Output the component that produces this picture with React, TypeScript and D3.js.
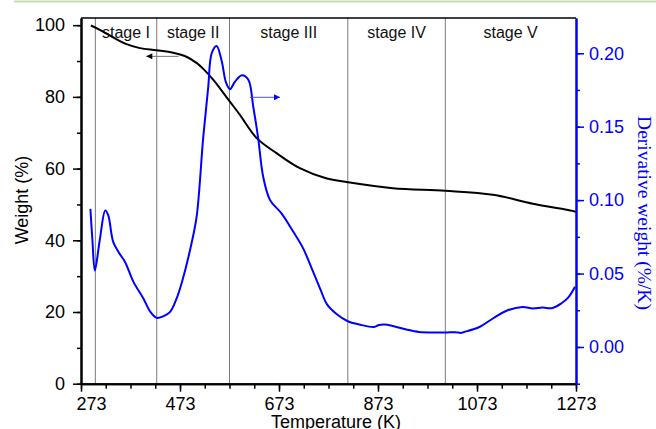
import React, { useEffect, useRef } from "react";
import * as d3 from "d3";

// TG curve (weight %) vs temperature (K)
const weightT = [293, 311, 338, 365, 392, 426, 459, 486, 507, 520, 540, 573, 594, 628, 668, 715, 768, 812, 903, 1009, 1105, 1186, 1266, 1273];
const weightV = [99.9, 98.7, 96.6, 94.7, 93.6, 93.0, 92.3, 91.2, 89.4, 87.8, 84.8, 78.8, 75.0, 68.5, 64.3, 60.1, 57.3, 56.2, 54.5, 53.8, 52.7, 50.2, 48.2, 47.9];

// DTG curve (derivative weight %/K)
const dtgT = [292, 296, 301, 311, 322, 328, 338, 350, 362, 379, 399, 413, 426, 440, 453, 465, 477, 497, 507, 520, 530, 537, 547, 557, 566, 574, 584, 598, 611, 621, 631, 641, 655, 678, 702, 722, 742, 756, 770, 788, 812, 835, 865, 875, 886, 903, 930, 956, 985, 1009, 1030, 1040, 1047, 1078, 1105, 1135, 1165, 1186, 1205, 1226, 1243, 1258, 1271];
const dtgV = [0.094, 0.073, 0.052, 0.073, 0.093, 0.0898, 0.0716, 0.064, 0.0579, 0.0443, 0.033, 0.024, 0.0198, 0.021, 0.0239, 0.032, 0.0443, 0.0716, 0.0898, 0.143, 0.177, 0.200, 0.205, 0.195, 0.180, 0.1755, 0.1806, 0.185, 0.182, 0.1636, 0.142, 0.116, 0.100, 0.091, 0.0784, 0.067, 0.0511, 0.0398, 0.029, 0.0228, 0.0175, 0.0153, 0.0136, 0.0150, 0.0153, 0.0143, 0.0119, 0.0102, 0.0099, 0.0098, 0.0101, 0.0096, 0.0102, 0.0136, 0.0194, 0.025, 0.0273, 0.0262, 0.0268, 0.0266, 0.0296, 0.034, 0.041];

// stage boundaries (K) and names
const stageBounds = [302, 426, 573, 812, 1009, 1273];
const stageNames = ["stage I", "stage II", "stage III", "stage IV", "stage V"];

// tick labels
const xMajor = [273, 473, 673, 873, 1073, 1273];
const xMinor = d3.range(273, 1274, 50);
const yLeftMajor = [0, 20, 40, 60, 80, 100];
const yLeftMinor = d3.range(0, 101, 10);
const yRightMajor = [0, 0.05, 0.1, 0.15, 0.2];
const yRightMinor = [-0.025, 0, 0.025, 0.05, 0.075, 0.1, 0.125, 0.15, 0.175, 0.2];

const BLUE = "#0000ff";
const SANS = "Arial, 'Liberation Sans', sans-serif";
const SERIF = "'Times New Roman', 'Liberation Serif', serif";

export default function App() {
  const ref = useRef<SVGSVGElement>(null);

  useEffect(() => {
    const width = 656;
    const height = 429;
    const m = { left: 81, right: 576, top: 18, bottom: 383.7 };

    const x = d3.scaleLinear().domain([273, 1273]).range([m.left, m.right]);
    const yL = d3.scaleLinear().domain([0, 102]).range([m.bottom, m.top]);
    const yR = d3.scaleLinear().domain([-0.025, 0.224]).range([m.bottom, m.top]);

    const svg = d3.select(ref.current);
    svg.selectAll("*").remove();
    svg.attr("width", width).attr("height", height);

    // top green rule
    svg.append("line")
      .attr("x1", 14).attr("x2", width).attr("y1", 1.5).attr("y2", 1.5)
      .attr("stroke", "#c5dfb4").attr("stroke-width", 2);

    const defs = svg.append("defs");
    [["arrBlack", "#000"], ["arrBlue", BLUE]].forEach(([id, c]) => {
      defs.append("marker")
        .attr("id", id)
        .attr("viewBox", "0 0 10 10")
        .attr("refX", 10).attr("refY", 5)
        .attr("markerWidth", 10).attr("markerHeight", 6)
        .attr("markerUnits", "userSpaceOnUse")
        .attr("orient", "auto")
        .append("path").attr("d", "M0,0L10,5L0,10Z").attr("fill", c);
    });

    // stage divider lines
    svg.append("g").selectAll("line")
      .data(stageBounds.slice(0, 5))
      .join("line")
      .attr("x1", (d) => x(d)).attr("x2", (d) => x(d))
      .attr("y1", m.top).attr("y2", m.bottom)
      .attr("stroke", "#7a7a7a").attr("stroke-width", 1);

    // stage labels
    svg.append("g").selectAll("text")
      .data(stageNames)
      .join("text")
      .attr("x", (_, i) => x((stageBounds[i] + stageBounds[i + 1]) / 2))
      .attr("y", 38)
      .attr("text-anchor", "middle")
      .attr("font-family", SANS).attr("font-size", 16).attr("fill", "#111")
      .text((d) => d);

    // curves
    const wLine = d3.line<number>()
      .x((_, i) => x(weightT[i]))
      .y((d) => yL(d))
      .curve(d3.curveCatmullRom.alpha(0.5));
    svg.append("path")
      .attr("d", wLine(weightV))
      .attr("fill", "none").attr("stroke", "#000").attr("stroke-width", 2);

    const dLine = d3.line<number>()
      .x((_, i) => x(dtgT[i]))
      .y((d) => yR(d))
      .curve(d3.curveCatmullRom.alpha(0.5));
    svg.append("path")
      .attr("d", dLine(dtgV))
      .attr("fill", "none").attr("stroke", BLUE).attr("stroke-width", 2);

    // arrows pointing to each curve's axis
    svg.append("line")
      .attr("x1", x(470)).attr("x2", x(405))
      .attr("y1", yL(91.3)).attr("y2", yL(91.3))
      .attr("stroke", "#777").attr("stroke-width", 1)
      .attr("marker-end", "url(#arrBlack)");
    svg.append("line")
      .attr("x1", x(614)).attr("x2", x(675))
      .attr("y1", yR(0.17)).attr("y2", yR(0.17))
      .attr("stroke", "#4d4dff").attr("stroke-width", 1)
      .attr("marker-end", "url(#arrBlue)");

    // frame top
    svg.append("line")
      .attr("x1", m.left).attr("x2", m.right).attr("y1", m.top).attr("y2", m.top)
      .attr("stroke", "#000").attr("stroke-width", 1.5);

    const styleAxis = (g: any, color: string) => {
      g.selectAll("path").attr("stroke", color).attr("stroke-width", 2);
      g.selectAll("line").attr("stroke", color).attr("stroke-width", 1.5);
      g.selectAll("text").attr("fill", color).attr("font-family", SANS).attr("font-size", 18);
    };

    // bottom axis
    const gxMinor = svg.append("g").attr("transform", `translate(0,${m.bottom})`)
      .call(d3.axisBottom(x).tickValues(xMinor).tickSize(5).tickSizeOuter(0).tickFormat(() => ""));
    styleAxis(gxMinor, "#000");
    const gx = svg.append("g").attr("transform", `translate(0,${m.bottom})`)
      .call(d3.axisBottom(x).tickValues(xMajor).tickSize(8).tickSizeOuter(0).tickPadding(6).tickFormat(d3.format("d")));
    styleAxis(gx, "#000");
    gx.selectAll("text").attr("dx", (d: any) => (d === 273 ? 10 : 0));

    // left axis
    const gyMinor = svg.append("g").attr("transform", `translate(${m.left},0)`)
      .call(d3.axisLeft(yL).tickValues(yLeftMinor).tickSize(4).tickSizeOuter(0).tickFormat(() => ""));
    styleAxis(gyMinor, "#000");
    const gy = svg.append("g").attr("transform", `translate(${m.left},0)`)
      .call(d3.axisLeft(yL).tickValues(yLeftMajor).tickSize(8).tickSizeOuter(0).tickPadding(8).tickFormat(d3.format("d")));
    styleAxis(gy, "#000");

    // right axis
    const grMinor = svg.append("g").attr("transform", `translate(${m.right},0)`)
      .call(d3.axisRight(yR).tickValues(yRightMinor).tickSize(4).tickSizeOuter(0).tickFormat(() => ""));
    styleAxis(grMinor, BLUE);
    const gr = svg.append("g").attr("transform", `translate(${m.right},0)`)
      .call(d3.axisRight(yR).tickValues(yRightMajor).tickSize(8).tickSizeOuter(0).tickPadding(5).tickFormat(d3.format(".2f")));
    styleAxis(gr, BLUE);

    // axis titles
    svg.append("text")
      .attr("transform", "translate(28,200) rotate(-90)")
      .attr("text-anchor", "middle")
      .attr("font-family", SANS).attr("font-size", 18).attr("fill", "#000")
      .text("Weight (%)");
    svg.append("text")
      .attr("transform", "translate(638,213) rotate(90)")
      .attr("text-anchor", "middle")
      .attr("font-family", SERIF).attr("font-size", 19.5).attr("fill", BLUE)
      .text("Derivative weight (%/K)");
    svg.append("text")
      .attr("x", 336).attr("y", 428)
      .attr("text-anchor", "middle")
      .attr("font-family", SANS).attr("font-size", 18).attr("fill", "#000")
      .text("Temperature (K)");
  }, []);

  return (
    <div style={{ position: "absolute", left: 0, top: 0, width: 656, height: 429, background: "#fff" }}>
      <svg ref={ref} style={{ display: "block" }} />
    </div>
  );
}
